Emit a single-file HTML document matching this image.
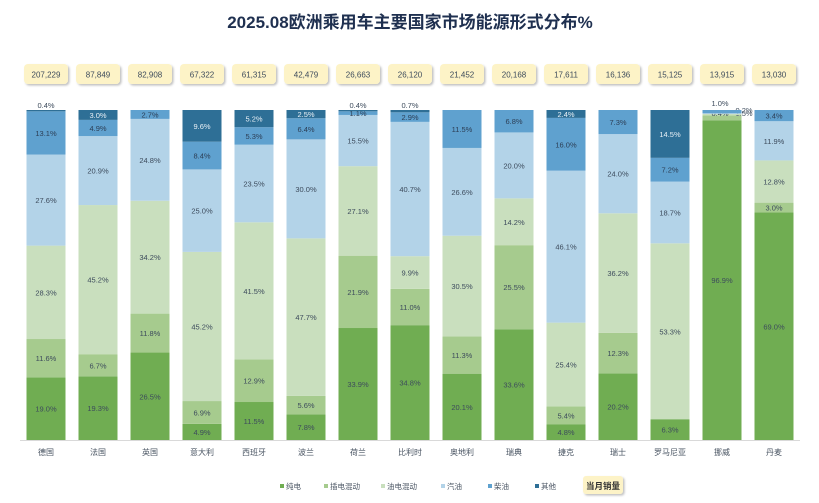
<!DOCTYPE html>
<html><head><meta charset="utf-8">
<style>
body{margin:0;background:#fff;font-family:"Liberation Sans","Noto Sans CJK SC",sans-serif;}
svg text{font-family:"Liberation Sans","Noto Sans CJK SC",sans-serif;}
</style></head>
<body>
<svg id="c" width="819" height="498" viewBox="0 0 819 498" xmlns="http://www.w3.org/2000/svg">
<defs><filter id="sh" x="-20%" y="-20%" width="150%" height="160%"><feDropShadow dx="1.5" dy="1.5" stdDeviation="1" flood-color="#000" flood-opacity="0.25"/></filter></defs>
<text x="410" y="28" text-anchor="middle" font-size="17" font-weight="bold" fill="#1f3050">2025.08欧洲乘用车主要国家市场能源形式分布%</text>
<line x1="20" y1="440.5" x2="800" y2="440.5" stroke="#d9d9d9"/>
<g id="bars"></g>
<g id="legend"></g>
</svg>
<script>
const countries=["德国","法国","英国","意大利","西班牙","波兰","荷兰","比利时","奥地利","瑞典","捷克","瑞士","罗马尼亚","挪威","丹麦"];
const sales=["207,229","87,849","82,908","67,322","61,315","42,479","26,663","26,120","21,452","20,168","17,611","16,136","15,125","13,915","13,030"];
const seriesNames=["纯电","插电混动","油电混动","汽油","柴油","其他"];
const bev=[19.0,19.3,26.5,4.9,11.5,7.8,33.9,34.8,20.1,33.6,4.8,20.2,6.3,96.9,69.0];
const phev=[11.6,6.7,11.8,6.9,12.9,5.6,21.9,11.0,11.3,25.5,5.4,12.3,0,1.5,3.0];
const hev=[28.3,45.2,34.2,45.2,41.5,47.7,27.1,9.9,30.5,14.2,25.4,36.2,53.3,0.4,12.8];
const petrol=[27.6,20.9,24.8,25.0,23.5,30.0,15.5,40.7,26.6,20.0,46.1,24.0,18.7,0.2,11.9];
const diesel=[13.1,4.9,2.7,8.4,5.3,6.4,1.1,2.9,11.5,6.8,16.0,7.3,7.2,1.0,3.4];
const other=[0.4,3.0,0,9.6,5.2,2.5,0.4,0.7,0,0,2.4,0,14.5,0,0];
const series=[bev,phev,hev,petrol,diesel,other];
const colors=["#70ad52","#a6cb8e","#c9dfbe","#b3d3e8","#5fa1cf","#2e6f96"];
const labelColors=["#3d4b5c","#3d4b5c","#3d4b5c","#3d4b5c","#2c3e55","#e8f0f6"];
const NS="http://www.w3.org/2000/svg";
const plotTop=110,plotBottom=440,x0=46,step=52,bw=39;
const xPos=i=>x0+i*step;
const yScale=(v,tot)=>(plotBottom-plotTop)*v/tot;
const g=document.getElementById('bars');
function mk(tag,attrs){const e=document.createElementNS(NS,tag);for(const k in attrs)e.setAttribute(k,attrs[k]);return e;}
countries.forEach((c,i)=>{
  const cx=xPos(i);
  const tot=series.reduce((s,a)=>s+a[i],0);
  let y=plotBottom;
  series.forEach((arr,k)=>{
    const v=arr[i]; if(v<=0) return;
    const h=yScale(v,tot);
    const r=mk('rect',{x:cx-bw/2,y:y-h,width:bw,height:h,fill:colors[k]});
    
    
    g.appendChild(r);
    let ly=y-h/2+3, lx=cx, col=labelColors[k];
    const top=(y-h)<=plotTop+0.5;
    if(v<2){
      if(top){ly=plotTop-2;col='#3d4b5c';}
      if(c==="挪威"){ly=[0,116,116,113,106][k];lx=cx+[0,22,-2,22,-2][k];col='#3d4b5c';}
    }
    const t=mk('text',{x:lx,y:ly,'text-anchor':'middle','font-size':'7.5',fill:col});
    t.textContent=v.toFixed(1)+'%';
    
    
    g.appendChild(t);
    y-=h;
  });
  const bx=mk('rect',{x:cx-22,y:64,width:44,height:20,rx:4,fill:'#fdf3c7',filter:'url(#sh)'});
  
  
  g.appendChild(bx);
  const st=mk('text',{x:cx,y:77.5,'text-anchor':'middle','font-size':'8',fill:'#3d4b5c'});
  st.textContent=sales[i];
  
  
  g.appendChild(st);
  const ct=mk('text',{x:cx,y:455,'text-anchor':'middle','font-size':'8',fill:'#4a5563'});
  ct.textContent=c;
  
  
  g.appendChild(ct);
});
const lg=document.getElementById('legend');
const lx=[280,324,381,441,488,535];
seriesNames.forEach((n,k)=>{
  const r=mk('rect',{x:lx[k],y:484,width:4,height:4,fill:colors[k]});
  
  
  lg.appendChild(r);
  const t=mk('text',{x:lx[k]+6,y:489,'font-size':'7.5',fill:'#4a5563'});
  t.textContent=n;
  
  
  lg.appendChild(t);
});
const sb=mk('rect',{x:583,y:476,width:40,height:18,rx:3,fill:'#fdf3c7',filter:'url(#sh)'});


lg.appendChild(sb);
const sbt=mk('text',{x:603,y:489,'text-anchor':'middle','font-size':'8.5','font-weight':'bold',fill:'#333'});
sbt.textContent='当月销量';


lg.appendChild(sbt);
</script>
</body></html>
